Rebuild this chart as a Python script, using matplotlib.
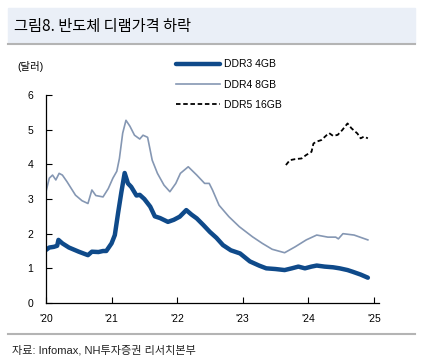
import matplotlib
matplotlib.use('Agg')
import matplotlib.pyplot as plt
import numpy as np

plt.rcParams['font.family'] = ['Liberation Sans', 'Noto Sans CJK KR']

# time as fractional year, values in USD
ddr3_t = [2020.0, 2020.05, 2020.12, 2020.17, 2020.19, 2020.25, 2020.35, 2020.5, 2020.64,
          2020.7, 2020.8, 2020.87, 2020.92, 2021.0, 2021.05, 2021.1, 2021.15, 2021.2,
          2021.25, 2021.3, 2021.38, 2021.43, 2021.5, 2021.59, 2021.66, 2021.74, 2021.86,
          2021.95, 2022.04, 2022.14, 2022.22, 2022.3, 2022.4, 2022.5, 2022.6, 2022.7,
          2022.82, 2022.96, 2023.11, 2023.25, 2023.36, 2023.5, 2023.64, 2023.75, 2023.85,
          2023.95, 2024.05, 2024.13, 2024.25, 2024.38, 2024.48, 2024.6, 2024.68, 2024.8,
          2024.91]
ddr3_v = [1.53, 1.6, 1.62, 1.65, 1.82, 1.72, 1.6, 1.48, 1.38, 1.48, 1.47, 1.5, 1.5,
          1.72, 1.96, 2.6, 3.2, 3.75, 3.45, 3.35, 3.1, 3.12, 3.0, 2.78, 2.5, 2.45, 2.34,
          2.4, 2.49, 2.68, 2.55, 2.44, 2.25, 2.05, 1.88, 1.67, 1.52, 1.43, 1.2, 1.08, 1.0,
          0.98, 0.95, 1.0, 1.05, 1.0, 1.05, 1.08, 1.05, 1.03, 1.0, 0.95, 0.9, 0.82, 0.73]

ddr4_t = [2020.0, 2020.05, 2020.1, 2020.15, 2020.2, 2020.25, 2020.32, 2020.45, 2020.55,
          2020.64, 2020.7, 2020.76, 2020.87, 2020.95, 2021.02, 2021.08, 2021.12, 2021.17,
          2021.22, 2021.28, 2021.35, 2021.43, 2021.48, 2021.55, 2021.62, 2021.7, 2021.8,
          2021.89, 2021.98, 2022.05, 2022.17, 2022.3, 2022.42, 2022.49, 2022.54, 2022.64,
          2022.79, 2022.95, 2023.15, 2023.3, 2023.45, 2023.64, 2023.8, 2023.97, 2024.13,
          2024.3, 2024.42, 2024.46, 2024.53, 2024.7, 2024.91]
ddr4_v = [3.21, 3.6, 3.69, 3.55, 3.74, 3.69, 3.5, 3.11, 2.95, 2.87, 3.26, 3.1, 3.06,
          3.3, 3.6, 3.8, 4.17, 4.9, 5.27, 5.1, 4.84, 4.73, 4.84, 4.78, 4.12, 3.74, 3.4,
          3.21, 3.45, 3.74, 3.93, 3.69, 3.45, 3.45, 3.26, 2.82, 2.49, 2.2, 1.91, 1.72, 1.55,
          1.45, 1.62, 1.82, 1.96, 1.9, 1.9, 1.85, 2.0, 1.96, 1.82]

ddr5_t = [2023.66, 2023.72, 2023.8, 2023.9, 2023.97, 2024.05, 2024.08, 2024.12,
          2024.2, 2024.28, 2024.32, 2024.38, 2024.45, 2024.52, 2024.6, 2024.66,
          2024.75, 2024.8, 2024.85, 2024.91]
ddr5_v = [3.98, 4.12, 4.15, 4.17, 4.27, 4.36, 4.6, 4.65, 4.7, 4.84, 4.9, 4.82, 4.85,
          4.99, 5.18, 5.04, 4.89, 4.75, 4.8, 4.75]

years = [2020, 2021, 2022, 2023, 2024, 2025]
year_labels = ["'20", "'21", "'22", "'23", "'24", "'25"]

fig = plt.figure(figsize=(4.23, 3.63), dpi=100)

# title band
fig.patches.append(plt.Rectangle((8 / 423, 1 - 43 / 363), 407 / 423, 35 / 363,
                                 transform=fig.transFigure, color='#eaeff7', zorder=0))
fig.lines.append(plt.Line2D([8 / 423, 415 / 423], [1 - 44 / 363, 1 - 44 / 363],
                            transform=fig.transFigure, color='#b4b4b4', lw=1.5))
fig.lines.append(plt.Line2D([8 / 423, 415 / 423], [1 - 334 / 363, 1 - 334 / 363],
                            transform=fig.transFigure, color='#b4b4b4', lw=1.5))
fig.text(14 / 423, 1 - 26 / 363, '그림8. 반도체 디램가격 하락', fontsize=11,
         family=['Noto Sans CJK KR'], va='center', ha='left')
fig.text(12 / 423, 1 - 350 / 363, '자료: Infomax, NH투자증권 리서치본부', fontsize=8,
         family=['Liberation Sans', 'Noto Sans CJK KR'], va='center', ha='left', color='#222222')
fig.text(17 / 423, 1 - 67 / 363, '(달러)', fontsize=7.5,
         family=['Liberation Sans', 'Noto Sans CJK KR'], va='center', ha='left')

ax = fig.add_axes([46 / 423, 1 - 303 / 363, 333 / 423, 208 / 363])
ax.plot(ddr3_t, ddr3_v, color='#0f4a8a', lw=3.2, label='DDR3 4GB', solid_capstyle='round')
ax.plot(ddr4_t, ddr4_v, color='#8597b3', lw=1.2, label='DDR4 8GB')
ax.plot(ddr5_t, ddr5_v, color='black', lw=1.3, ls=(0, (2.5, 1.5)), label='DDR5 16GB')

ax.set_xlim(2020, 2025.08)
ax.set_ylim(0, 6)
ax.set_xticks(years)
ax.set_xticklabels(year_labels)
ax.set_yticks(range(7))
ax.tick_params(direction='in', length=4, width=0.8, labelsize=7.5, colors='black')
ax.tick_params(axis='x', pad=8)
ax.tick_params(axis='y', pad=9)
for s in ['top', 'right']:
    ax.spines[s].set_visible(False)
for s in ['left', 'bottom']:
    ax.spines[s].set_linewidth(0.9)

ax.legend(loc='upper left', bbox_to_anchor=(172 / 423, 1 - 55 / 363),
          bbox_transform=fig.transFigure, frameon=False, fontsize=7.5,
          handlelength=4.2, handletextpad=0.4, labelspacing=1.0, borderaxespad=0)

fig.savefig('out.png', dpi=100)
